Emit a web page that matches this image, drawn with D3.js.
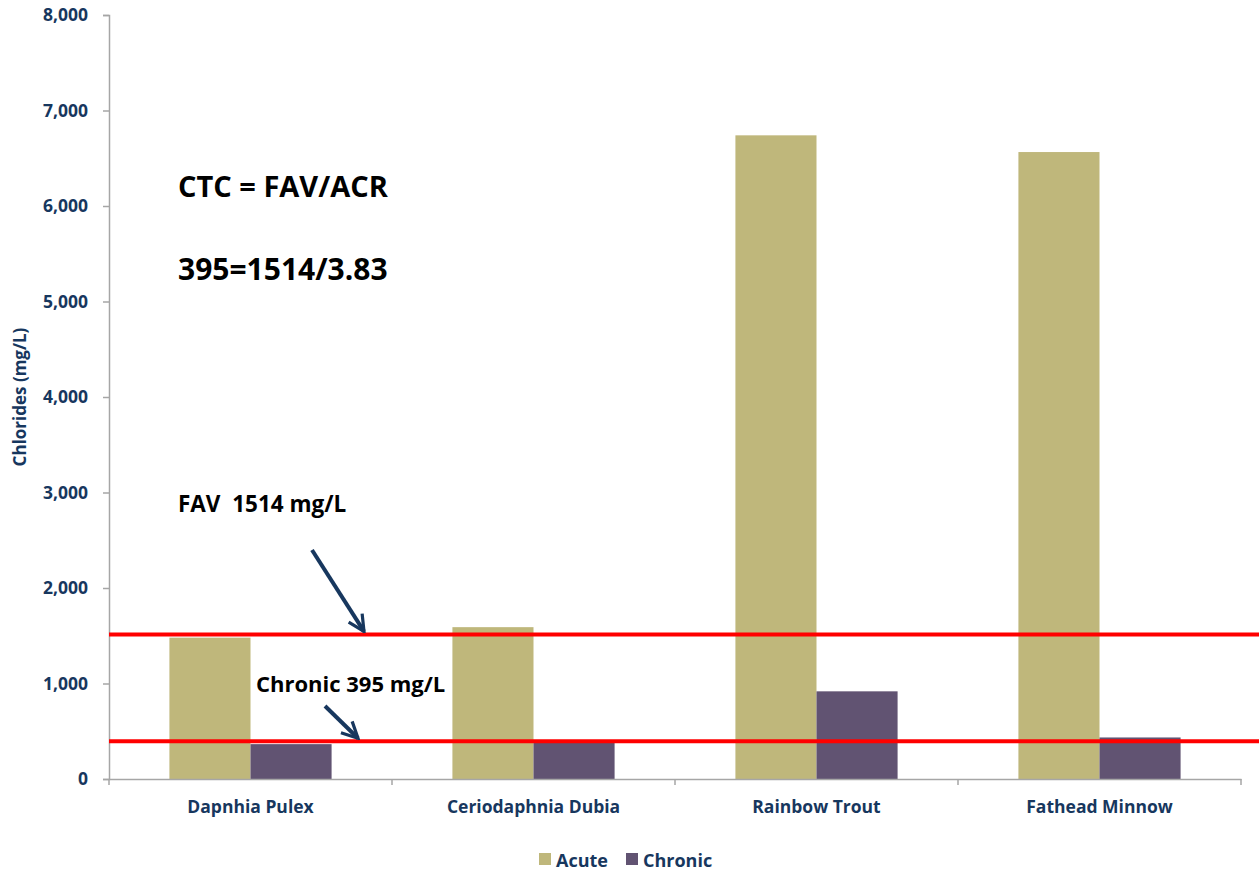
<!DOCTYPE html>
<html>
<head>
<meta charset="utf-8">
<script src="https://cdn.jsdelivr.net/npm/d3@7"></script>
<style>
  body { margin: 0; background: #fff; }
  svg text { font-family: "Open Sans", "Noto Sans", sans-serif; }
</style>
</head>
<body>
<svg id="chart"></svg>
<script>
// data
const species = ["Dapnhia Pulex", "Ceriodaphnia Dubia", "Rainbow Trout", "Fathead Minnow"];
const seriesNames = ["Acute", "Chronic"];
const acute = [1480, 1590, 6740, 6565];
const chronic = [365, 390, 918, 435];
const yTicks = [0, 1000, 2000, 3000, 4000, 5000, 6000, 7000, 8000];
const favValue = 1514;
const chronicValue = 395;

const colors = { Acute: "#bfb77b", Chronic: "#615372" };
const navy = "#17375e";

const width = 1259, height = 872;
const margin = { top: 15, right: 18, bottom: 93, left: 109 };

const svg = d3.select("#chart").attr("width", width).attr("height", height);

const xScale = d3.scaleBand()
  .domain(species)
  .range([margin.left, width - margin.right]);

const xSub = d3.scaleBand()
  .domain(seriesNames)
  .range([0, xScale.bandwidth()])
  .paddingInner(0)
  .paddingOuter(0.745);

const yScale = d3.scaleLinear()
  .domain([0, 8000])
  .range([height - margin.bottom, margin.top]);

const rows = species.map((s, i) => ({ species: s, Acute: acute[i], Chronic: chronic[i] }));

// bars
const groups = svg.append("g").selectAll("g")
  .data(rows)
  .enter().append("g")
  .attr("transform", d => `translate(${xScale(d.species)},0)`);

groups.selectAll("rect")
  .data(d => seriesNames.map(k => ({ key: k, value: d[k] })))
  .enter().append("rect")
  .attr("x", d => xSub(d.key))
  .attr("y", d => yScale(d.value))
  .attr("width", xSub.bandwidth())
  .attr("height", d => yScale(0) - yScale(d.value))
  .attr("fill", d => colors[d.key]);

// y axis
const yAxis = d3.axisLeft(yScale)
  .tickValues(yTicks)
  .tickFormat(d3.format(","))
  .tickSize(6)
  .tickPadding(15);

const yAxisG = svg.append("g")
  .attr("transform", `translate(${margin.left},0)`)
  .call(yAxis);
yAxisG.select(".domain").attr("stroke", "#a6a6a6").attr("stroke-width", 1.5);
yAxisG.selectAll(".tick line").attr("stroke", "#a6a6a6").attr("stroke-width", 1.5);
yAxisG.selectAll(".tick text")
  .attr("fill", navy)
  .style("font-size", "17.5px")
  .style("font-weight", "bold");

// x axis
const xAxis = d3.axisBottom(xScale).tickSize(0).tickPadding(22);
const xAxisG = svg.append("g")
  .attr("transform", `translate(0,${yScale(0)})`)
  .call(xAxis);
xAxisG.select(".domain").attr("stroke", "#a6a6a6").attr("stroke-width", 1.5);
xAxisG.selectAll(".tick text")
  .attr("fill", navy)
  .style("font-size", "17.5px")
  .style("font-weight", "bold");

// category boundary ticks
const bounds = species.map(s => xScale(s)).concat([xScale.range()[1]]);
xAxisG.selectAll(".bound")
  .data(bounds)
  .enter().append("line")
  .attr("x1", d => d).attr("x2", d => d)
  .attr("y1", 0).attr("y2", 6)
  .attr("stroke", "#a6a6a6").attr("stroke-width", 1.5);

// y axis title
svg.append("text")
  .attr("transform", `translate(26,${(yScale(0) + yScale(8000)) / 2}) rotate(-90)`)
  .attr("text-anchor", "middle")
  .attr("fill", navy)
  .style("font-size", "17px")
  .style("font-weight", "bold")
  .text("Chlorides (mg/L)");

// reference lines
svg.selectAll(".ref")
  .data([favValue, chronicValue])
  .enter().append("line")
  .attr("x1", margin.left).attr("x2", width)
  .attr("y1", d => yScale(d)).attr("y2", d => yScale(d))
  .attr("stroke", "#ff0000").attr("stroke-width", 4);

// arrows
svg.append("defs").append("marker")
  .attr("id", "head")
  .attr("viewBox", "0 0 10 10")
  .attr("refX", 9).attr("refY", 5)
  .attr("markerWidth", 5).attr("markerHeight", 5)
  .attr("markerUnits", "strokeWidth")
  .attr("orient", "auto")
  .append("path")
  .attr("d", "M1,1 L9,5 L1,9")
  .attr("fill", "none")
  .attr("stroke", navy)
  .attr("stroke-width", 1.6);

const arrows = [
  { x1: 312, y1: 550, x2: 364, v: favValue },
  { x1: 325, y1: 706, x2: 358, v: chronicValue }
];
svg.selectAll(".arrow")
  .data(arrows)
  .enter().append("line")
  .attr("x1", d => d.x1).attr("y1", d => d.y1)
  .attr("x2", d => d.x2).attr("y2", d => yScale(d.v) - 3)
  .attr("stroke", navy).attr("stroke-width", 4)
  .attr("marker-end", "url(#head)");

// annotations
const notes = [
  { text: "CTC = FAV/ACR", x: 178, y: 197, size: 29 },
  { text: "395=1514/3.83", x: 178, y: 280, size: 30 },
  { text: "FAV  1514 mg/L", x: 178, y: 512, size: 22.5 },
  { text: "Chronic 395 mg/L", x: 256, y: 692, size: 22 }
];
svg.selectAll(".note")
  .data(notes)
  .enter().append("text")
  .attr("x", d => d.x).attr("y", d => d.y)
  .attr("fill", "#000")
  .style("font-size", d => d.size + "px")
  .style("font-weight", "bold")
  .style("white-space", "pre")
  .text(d => d.text);

// legend
const legend = svg.append("g").attr("transform", "translate(539,860)");
const legendX = [0, 87];
const li = legend.selectAll("g")
  .data(seriesNames)
  .enter().append("g")
  .attr("transform", (d, i) => `translate(${legendX[i]},0)`);
li.append("rect")
  .attr("x", 0).attr("y", -7)
  .attr("width", 12).attr("height", 12)
  .attr("fill", d => colors[d]);
li.append("text")
  .attr("x", 17).attr("y", 7)
  .attr("fill", navy)
  .style("font-size", "18px")
  .style("font-weight", "bold")
  .text(d => d);
</script>
</body>
</html>
